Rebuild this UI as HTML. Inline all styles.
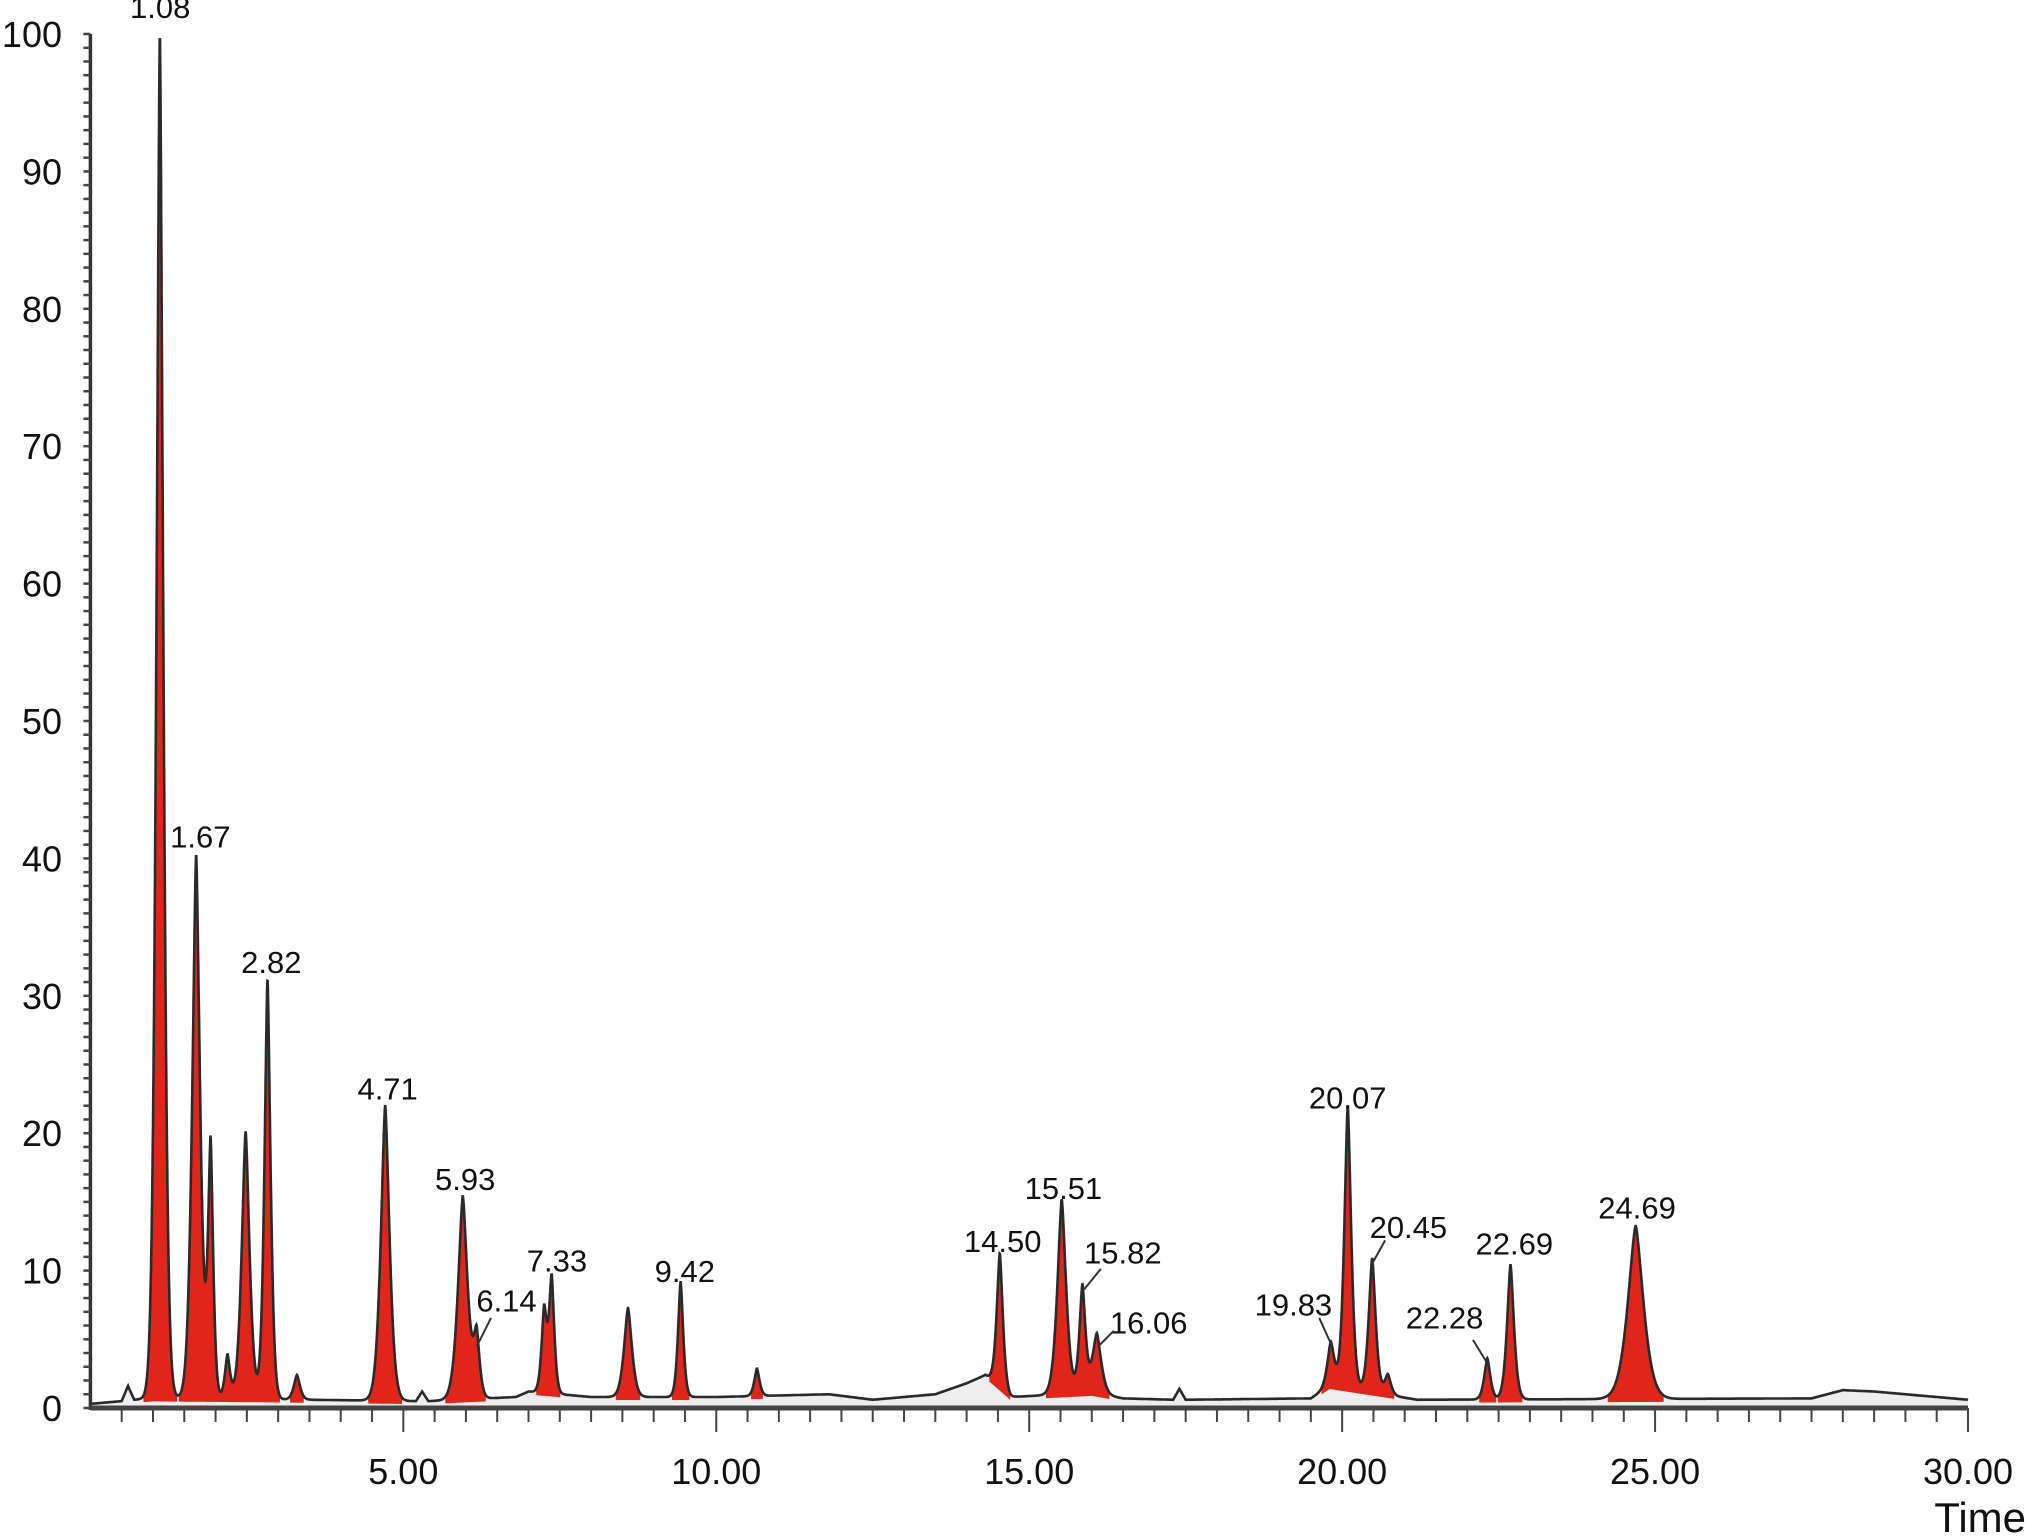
<!DOCTYPE html>
<html><head><meta charset="utf-8"><style>
html,body{margin:0;padding:0;background:#fff;}
svg{display:block;font-family:"Liberation Sans",Arial,sans-serif;}
</style></head><body>
<svg id="chart" width="2026" height="1536" viewBox="0 0 2026 1536" xmlns="http://www.w3.org/2000/svg">
<rect width="2026" height="1536" fill="#fff"/>
<g id="plot"></g>
</svg>
<script>
// ---- data ----
const peakTimes   = [1.11, 1.69, 1.92, 2.19, 2.48, 2.83, 3.30, 4.71, 5.95, 6.17, 7.25, 7.37, 8.59, 9.43, 10.65, 14.53, 15.52, 15.85, 16.08, 19.82, 20.09, 20.48, 20.73, 22.32, 22.69, 24.69];
const peakHeights = [99.3, 39.6, 18.5, 3.2, 19.5, 30.6, 1.8, 21.5, 14.8, 4.5, 6.0, 8.4, 6.5, 8.4, 2.0, 9.8, 14.2, 7.8, 4.4, 3.2, 20.6, 9.8, 1.5, 3.0, 9.8, 12.6];
const peakWidths  = [0.08, 0.09, 0.06, 0.06, 0.09, 0.07, 0.07, 0.1, 0.11, 0.07, 0.06, 0.06, 0.09, 0.06, 0.06, 0.07, 0.1, 0.07, 0.1, 0.08, 0.08, 0.08, 0.07, 0.07, 0.08, 0.18];
const baseTimes   = [0, 0.5, 0.6, 0.7, 1.0, 3.5, 5.2, 5.3, 5.4, 6.8, 7.0, 8.0, 10.0, 11.8, 12.5, 13.5, 14.0, 14.3, 14.7, 16.0, 16.5, 17.3, 17.4, 17.5, 19.5, 19.8, 20.8, 21.2, 27.5, 28.0, 28.5, 30.0];
const baseLevels  = [0.3, 0.5, 1.6, 0.6, 0.7, 0.6, 0.5, 1.2, 0.5, 0.8, 1.2, 0.8, 0.8, 1.0, 0.6, 1.0, 1.8, 2.4, 0.8, 1.1, 0.7, 0.6, 1.4, 0.6, 0.7, 1.6, 0.9, 0.6, 0.7, 1.3, 1.2, 0.6];
const peakLabels  = ["1.08","1.67","2.82","4.71","5.93","6.14","7.33","9.42","14.50","15.51","15.82","16.06","19.83","20.07","20.45","22.28","22.69","24.69"];
const yTicks = [0,10,20,30,40,50,60,70,80,90,100];
const xTicks = [5,10,15,20,25,30];
const xTickLabels = ["5.00","10.00","15.00","20.00","25.00","30.00"];

// ---- axes ----
const X0=90.4, X1=1968, Y0=1408, Y1=34;
const xs=t=>X0+(t/30)*(X1-X0);
const ys=v=>Y0-(v/100)*(Y0-Y1);
const S=2026/1568;
const NS="http://www.w3.org/2000/svg";
const plot=document.getElementById('plot');
function mk(tag,attrs,parent){const e=document.createElementNS(NS,tag);for(const k in attrs)e.setAttribute(k,attrs[k]);(parent||plot).appendChild(e);return e;}

function baseAt(t){for(let i=0;i<baseTimes.length-1;i++){if(t>=baseTimes[i]&&t<=baseTimes[i+1]){const f=(t-baseTimes[i])/(baseTimes[i+1]-baseTimes[i]);return baseLevels[i]+f*(baseLevels[i+1]-baseLevels[i]);}}return baseLevels[baseLevels.length-1];}
function sigAt(t){let s=0;for(let i=0;i<peakTimes.length;i++){const d=Math.abs(t-peakTimes[i]);s+=peakHeights[i]*Math.exp(-Math.pow(d/peakWidths[i],1.5));}return s;}

const pts=[],bpts=[],lpts=[];
for(let t=0;t<=30.0001;t+=0.004){const b=baseAt(t),s=sigAt(t);const py=ys(b+s);pts.push([xs(t),py]);bpts.push([xs(t),ys(b)]);lpts.push([xs(t),s>0.25?Math.min(ys(b)+3,Y0-2):py]);}
let band='M'+bpts.map(p=>p[0].toFixed(1)+','+p[1].toFixed(1)).join('L')+`L${X1},${Y0}L${X0},${Y0}Z`;
const bandEl=mk('path',{d:band,fill:'#eeeeee'});


let fill='M'+pts.map(p=>p[0].toFixed(1)+','+p[1].toFixed(1)).join('L')+'L'+lpts.slice().reverse().map(p=>p[0].toFixed(1)+','+p[1].toFixed(1)).join('L')+'Z';
const fillEl=mk('path',{d:fill,fill:'#e0261b'});


const lineEl=mk('path',{d:'M'+pts.map(p=>p[0].toFixed(1)+','+p[1].toFixed(1)).join('L'),fill:'none',stroke:'#2a2a2a','stroke-width':2.6});



const ax=mk('g',{});


mk('line',{x1:X0,y1:Y1,x2:X0,y2:Y0+2,stroke:'#333','stroke-width':3.5},ax);
mk('line',{x1:X0,y1:Y0,x2:X1,y2:Y0,stroke:'#444','stroke-width':5},ax);
for(let v=0;v<=100;v+=1){mk('line',{x1:X0-7,y1:ys(v),x2:X0,y2:ys(v),stroke:'#444','stroke-width':2.5},ax);}
for(let t=0.5;t<=30.001;t+=0.5){const major=Math.abs(t/5-Math.round(t/5))<1e-6;mk('line',{x1:xs(t),y1:Y0,x2:xs(t),y2:Y0+(major?24:14),stroke:'#444','stroke-width':2},ax);}
yTicks.forEach(v=>{const e=mk('text',{x:62,y:ys(v)+13,'text-anchor':'end','font-size':36,fill:'#111'},ax);e.textContent=v;

});
xTicks.forEach((t,i)=>{const e=mk('text',{x:xs(t),y:1484,'text-anchor':'middle','font-size':36,fill:'#111'},ax);e.textContent=xTickLabels[i];

});
const tl=mk('text',{x:2026,y:1532,'text-anchor':'end','font-size':42,fill:'#111'},ax);tl.textContent='Time';



const labelPos=[[124,14],[155,656],[210,753],[300,851],[360,921],[392,1015],[431,984],[530,992],[776,969],[823,928],[869,978],[889,1032],[1001,1018],[1043,858],[1090,958],[1118,1028],[1172,971],[1267,943]];
const leaders={"6.14":[380,1020,369,1042],"15.82":[852,982,839,998],"16.06":[862,1030,850,1042],"19.83":[1021,1020,1031,1042],"20.45":[1072,960,1062,978],"22.28":[1140,1037,1151,1055]};
const lg=mk('g',{});


peakLabels.forEach((s,i)=>{const p=labelPos[i];const e=mk('text',{x:p[0]*S,y:p[1]*S,'text-anchor':'middle','font-size':31,fill:'#111'},lg);e.textContent=s;


if(leaders[s]){const l=leaders[s];mk('line',{x1:l[0]*S,y1:l[1]*S,x2:l[2]*S,y2:l[3]*S,stroke:'#333','stroke-width':2},lg);}});
</script>
</body></html>
